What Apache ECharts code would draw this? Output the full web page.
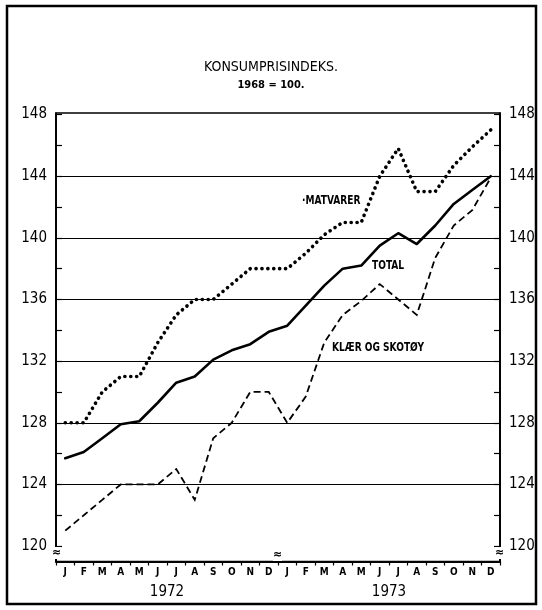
<!DOCTYPE html>
<html>
<head>
<meta charset="utf-8">
<title>Konsumprisindeks</title>
<script src="https://cdn.jsdelivr.net/npm/echarts@6/dist/echarts.min.js"></script>
<style>
  html, body { margin: 0; padding: 0; background: #fff; }
  #chart { width: 542px; height: 610px; }
</style>
</head>
<body>
<div id="chart"></div>
<script>
// Consumer price index, 1968 = 100, monthly 1972-1973
const months = ['J', 'F', 'M', 'A', 'M', 'J', 'J', 'A', 'S', 'O', 'N', 'D'];
const years = ['1972', '1973'];

const total = [
  125.7, 126.1, 127.0, 127.9, 128.1, 129.3, 130.6, 131.0, 132.1, 132.7, 133.1, 133.9,
  134.3, 135.6, 136.9, 138.0, 138.2, 139.5, 140.3, 139.6, 140.8, 142.2, 143.1, 144.0
];
const matvarer = [
  128.0, 128.0, 130.0, 131.0, 131.0, 133.2, 135.0, 136.0, 136.0, 137.0, 138.0, 138.0,
  138.0, 139.0, 140.2, 141.0, 141.0, 144.0, 145.8, 143.0, 143.0, 144.7, 145.9, 147.0
];
const klaer = [
  121.0, 122.0, 123.0, 124.0, 124.0, 124.0, 125.0, 123.0, 127.0, 128.0, 130.0, 130.0,
  128.0, 129.7, 133.2, 135.0, 135.9, 137.0, 136.0, 135.0, 138.7, 140.8, 141.8, 143.9
];

const yLabels = [120, 124, 128, 132, 136, 140, 144, 148];
const yTicks = [120, 122, 124, 126, 128, 130, 132, 134, 136, 138, 140, 142, 144, 146, 148];
const gridValues = [124, 128, 132, 136, 140, 144];

const categories = [];
years.forEach(y => months.forEach((m, i) => categories.push(y + '-' + i + '-' + m)));

const FONT = '"Liberation Sans Narrow", "DejaVu Sans Condensed", "Liberation Sans", sans-serif';

// plot box
const G = { left: 56, top: 113, right: 42, bottom: 48.5 };

const chart = echarts.init(document.getElementById('chart'), null, { renderer: 'canvas' });

function yAxisDef(pos) {
  return {
    type: 'value',
    position: pos,
    min: 119,
    max: 148.1,
    axisLine: { show: true, lineStyle: { color: '#000', width: 1.5 } },
    axisTick: {
      show: true, inside: true, length: 6,
      customValues: yTicks,
      lineStyle: { color: '#000', width: 1.2 }
    },
    axisLabel: {
      show: true, customValues: yLabels, margin: 9,
      color: '#000', fontFamily: FONT, fontSize: 15
    },
    splitLine: { show: false }
  };
}

function caption(text, left, top) {
  return {
    type: 'text', left: left, top: top, z: 100, scaleX: 0.84,
    style: { text: text, font: 'bold 12px ' + FONT, fill: '#000' }
  };
}

function breakMark(left, top) {
  return {
    type: 'text', left: left, top: top, z: 100,
    style: { text: '≈', font: 'bold 12px ' + FONT, fill: '#000', backgroundColor: '#fff' }
  };
}

const option = {
  animation: false,
  backgroundColor: '#fff',
  grid: {
    left: G.left, top: G.top, right: G.right, bottom: G.bottom,
    show: true, borderColor: '#000', borderWidth: 1.5, containLabel: false
  },
  title: [
    {
      text: 'KONSUMPRISINDEKS.',
      left: 'center', top: 55,
      textStyle: { fontFamily: FONT, fontSize: 14, fontWeight: 'normal', color: '#000' }
    },
    {
      text: '1968 = 100.',
      left: 'center', top: 75,
      textStyle: { fontFamily: FONT, fontSize: 11, fontWeight: 'bold', color: '#000' }
    }
  ],
  xAxis: [
    {
      type: 'category',
      data: categories,
      boundaryGap: true,
      position: 'bottom',
      axisLine: { show: true, lineStyle: { color: '#000', width: 2 } },
      axisTick: { show: true, interval: 0, length: 4, lineStyle: { color: '#000', width: 1.2 } },
      axisLabel: {
        interval: 0, margin: 6,
        formatter: v => v.split('-')[2],
        color: '#000', fontFamily: FONT, fontSize: 10, fontWeight: 'bold'
      },
      splitLine: {
        show: true,
        interval: (i) => i === 12,
        lineStyle: { color: '#000', width: 1.5 }
      }
    },
    {
      type: 'category',
      data: years,
      position: 'bottom',
      offset: 15,
      axisLine: { show: false },
      axisTick: { show: false },
      axisLabel: { color: '#000', fontFamily: FONT, fontSize: 15 },
      splitLine: { show: false }
    }
  ],
  yAxis: [yAxisDef('left'), yAxisDef('right')],
  series: [
    {
      name: 'TOTAL',
      type: 'line',
      data: total,
      showSymbol: false,
      lineStyle: { color: '#000', width: 2.6, join: 'round', cap: 'round' },
      z: 5,
      markLine: {
        silent: true,
        symbol: 'none',
        label: { show: false },
        lineStyle: { color: '#000', width: 1.2, type: 'solid' },
        data: gridValues.map(v => ({ yAxis: v }))
      }
    },
    {
      name: 'MATVARER',
      type: 'line',
      data: matvarer,
      showSymbol: false,
      lineStyle: { color: '#000', width: 3.6, type: [0.1, 5.8], cap: 'round', join: 'round' },
      z: 5
    },
    {
      name: 'KLÆR OG SKOTØY',
      type: 'line',
      data: klaer,
      showSymbol: false,
      lineStyle: { color: '#000', width: 1.8, type: [7, 4], join: 'miter' },
      z: 5
    }
  ],
  graphic: [
    // outer frame
    {
      type: 'rect', silent: true, z: 100,
      shape: { x: 7, y: 6, width: 529, height: 598 },
      style: { fill: null, stroke: '#000', lineWidth: 2.5 }
    },
    // series captions
    caption('·MATVARER', 302, 195),
    caption('TOTAL', 372, 260),
    caption('KLÆR OG SKOTØY', 332, 342),
    // axis break marks
    breakMark(52, 547),
    breakMark(273, 549),
    breakMark(495, 547)
  ]
};

chart.setOption(option);
</script>
</body>
</html>
